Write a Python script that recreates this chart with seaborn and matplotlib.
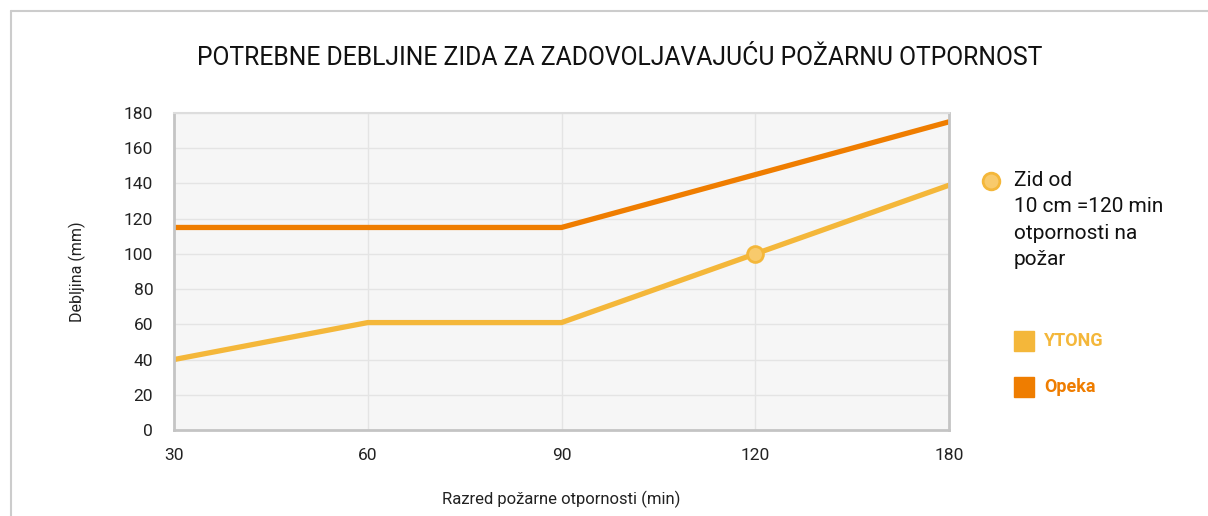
import matplotlib
matplotlib.use("Agg")
import matplotlib.pyplot as plt
import seaborn as sns
import pandas as pd
from matplotlib.patches import Rectangle
from matplotlib.lines import Line2D

# podaci
razred = ["30", "60", "90", "120", "180"]
ytong = [40, 61, 61, 100, 139]
opeka = [115, 115, 115, 145, 175]
istaknuto_razred = "120"
istaknuto_vrijednost = 100

YTONG_COLOR = "#f4b73a"
OPEKA_COLOR = "#ef7d00"

df = pd.DataFrame({
    "razred": razred * 2,
    "debljina": ytong + opeka,
    "materijal": ["YTONG"] * len(razred) + ["Opeka"] * len(razred),
})

sns.set_theme(style="white")
plt.rcParams["font.family"] = ["Roboto", "DejaVu Sans"]

fig = plt.figure(figsize=(12.08, 5.16), dpi=100)
ax = fig.add_axes([174 / 1208, 1 - 430 / 516, (949 - 174) / 1208, (430 - 113) / 516])
ax.set_facecolor("#f6f6f6")

sns.lineplot(data=df, x="razred", y="debljina", hue="materijal",
             palette={"YTONG": YTONG_COLOR, "Opeka": OPEKA_COLOR},
             linewidth=3.8, legend=False, ax=ax, sort=False)

xi = razred.index(istaknuto_razred)
ax.scatter([xi], [istaknuto_vrijednost], s=130, color="#f8ca6c",
           edgecolor=YTONG_COLOR, linewidth=2, zorder=5)

ax.set_xlim(0, len(razred) - 1)
ax.set_ylim(0, 180)
ax.set_yticks(range(0, 181, 20))
ax.set_xticks(range(len(razred)))
ax.set_xticklabels(razred)
ax.grid(True, color="#e4e4e4", linewidth=1)
ax.set_axisbelow(True)

for side in ["left", "bottom", "right"]:
    ax.spines[side].set_color("#c4c4c4")
    ax.spines[side].set_linewidth(2)
ax.spines["top"].set_color("#dddddd")
ax.spines["top"].set_linewidth(1.5)
ax.tick_params(axis="both", labelsize=12.5, colors="#222222", length=0)
ax.tick_params(axis="y", pad=15)
ax.tick_params(axis="x", pad=13)

ax.set_xlabel("Razred požarne otpornosti (min)", fontsize=12, color="#222222", labelpad=20)
ax.set_ylabel("Debljina (mm)", fontsize=11.5, color="#222222", labelpad=27)

fig.text(620 / 1208, 1 - 58 / 516, "POTREBNE DEBLJINE ZIDA ZA ZADOVOLJAVAJUĆU POŽARNU OTPORNOST",
         ha="center", va="center", fontsize=17.8, color="#111111")

# okvir
fig.add_artist(Line2D([11 / 1208, 1.0], [1 - 11 / 516] * 2, color="#cccccc", lw=1.5))
fig.add_artist(Line2D([11 / 1208] * 2, [0, 1 - 11 / 516], color="#cccccc", lw=1.5))

# legenda
fig.add_artist(Line2D([991 / 1208], [1 - 181 / 516], marker="o", markersize=12,
                      markerfacecolor="#f8ca6c", markeredgecolor=YTONG_COLOR,
                      markeredgewidth=2, linestyle="none"))
fig.text(1014 / 1208, 1 - 171 / 516, "Zid od\n10 cm =120 min\notpornosti na\npožar",
         ha="left", va="top", fontsize=15, color="#111111", linespacing=1.5)

for y, label, color in [(341, "YTONG", YTONG_COLOR), (387, "Opeka", OPEKA_COLOR)]:
    fig.add_artist(Rectangle((1014 / 1208, 1 - (y + 10) / 516), 20 / 1208, 20 / 516,
                             transform=fig.transFigure, color=color))
    fig.text(1044 / 1208, 1 - y / 516, label, ha="left", va="center",
             fontsize=13, fontweight="bold", color=color)

fig.savefig("out.png", dpi=100)
